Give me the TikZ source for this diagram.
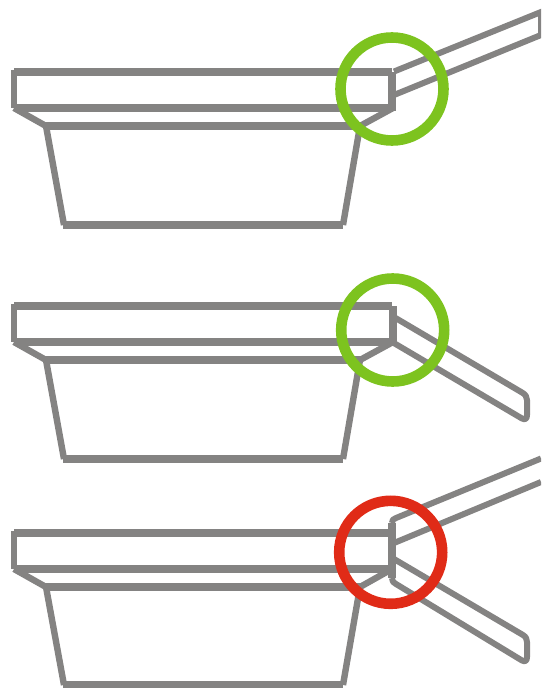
\documentclass[tikz,border=0pt]{standalone}
\definecolor{pan}{HTML}{848382}
\definecolor{okgreen}{HTML}{7DC31F}
\definecolor{badred}{HTML}{E02B17}
\tikzset{
  rim/.style={draw=pan,line width=7.6pt},
  wall/.style={draw=pan,line width=6.4pt},
  handle/.style={draw=pan,line width=6pt},
  ring/.style={line width=10.6pt,radius=51.5}
}
\begin{document}
\begin{tikzpicture}[x=1pt,y=-1pt]
\useasboundingbox (0,0) rectangle (541,688);
\clip (0,0) rectangle (541,688);
% pan 1
\draw[handle] (394,71.5) -- (541,12) -- (541,35) -- (394,95);
\draw[rim] (14,72) -- (392,72);
\draw[wall] (14.2,70) -- (14.2,108);
\draw[rim] (14,108) -- (393,108);
\draw[rim] (392,72) -- (392,111);
\draw[rim] (46,126) -- (360,126);
\draw[rim] (63,225) -- (343,225);
\draw[wall] (14,108) -- (46,126) -- (64,225);
\draw[wall] (393,108) -- (360,126) -- (343,225);
\draw[ring,okgreen] (392,89) circle;
% pan 2
\draw[handle,line join=round] (393,316.5) -- (522,392.5) .. controls (525.5,394.5) and (527,397) .. (527,400) -- (527,415) .. controls (527,419) and (525,420) .. (522,418.5) -- (393,342.5);
\draw[rim] (14,306) -- (392,306);
\draw[wall] (13.8,304) -- (13.8,342);
\draw[rim] (14,342) -- (393,342);
\draw[rim] (393,306) -- (393,342);
\draw[rim] (46,360) -- (360,360);
\draw[rim] (63,459) -- (343,459);
\draw[wall] (14,342) -- (46,360) -- (64,459);
\draw[wall] (393,342) -- (360,360) -- (343,459);
\draw[ring,okgreen] (392.7,330) circle;
% pan 3
\draw[handle,line join=round] (541,458.5) -- (396,518) .. controls (393,519) and (392,520) .. (392,523);
\draw[handle] (541,482) -- (394,543);
\draw[handle,line join=round] (394,559) -- (523,635) .. controls (526,637) and (527,639) .. (527,642) -- (527,657) .. controls (527,661) and (525,662) .. (522,660.5) -- (396,584) .. controls (393,582) and (392,581) .. (392,578);
\draw[rim] (14,533) -- (392,533);
\draw[wall] (14.2,531) -- (14.2,569);
\draw[rim] (14,569) -- (392,569);
\draw[rim] (392,523) -- (392,578);
\draw[rim] (46,587) -- (360,587);
\draw[rim] (63,685) -- (343,685);
\draw[wall] (14,569) -- (46,587) -- (64,685);
\draw[wall] (392,569) -- (360,587) -- (343,685);
\draw[ring,badred] (390.7,552.3) circle;
\end{tikzpicture}
\end{document}
